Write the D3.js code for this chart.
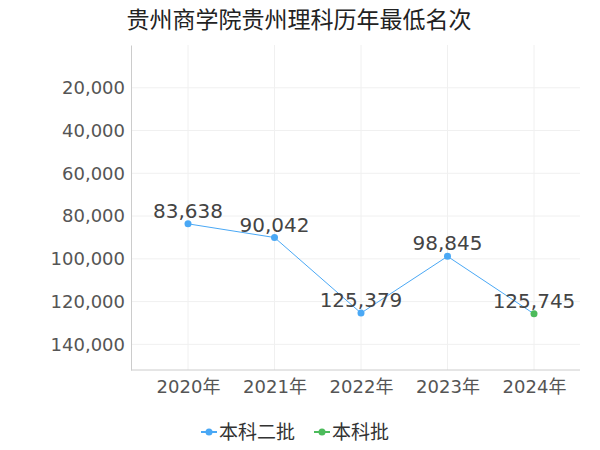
<!DOCTYPE html>
<html><head><meta charset="utf-8">
<script src="https://cdn.jsdelivr.net/npm/d3@7"></script>
<style>body{margin:0;background:#fff;font-family:"DejaVu Sans","Noto Sans CJK SC",sans-serif;}</style>
</head><body>
<script>
var years = ["2020年", "2021年", "2022年", "2023年", "2024年"];
var ranks = [83638, 90042, 125379, 98845, 125745];
var batches = ["本科二批", "本科二批", "本科二批", "本科二批", "本科批"];
var yTicks = [20000, 40000, 60000, 80000, 100000, 120000, 140000];
var legendNames = ["本科二批", "本科批"];
var batchColors = {"本科二批": "#4aa8f5", "本科批": "#4cbb5b"};

var width = 600, height = 450;
var svg = d3.select("body").append("svg").attr("width", width).attr("height", height);

var x = d3.scalePoint().domain(years).range([188, 534]);
var y = d3.scaleLinear().domain([0, 152000]).range([45, 370]);

// grid
svg.append("g").selectAll("line").data(yTicks).enter().append("line")
  .attr("x1", 131).attr("x2", 580)
  .attr("y1", function(d){ return y(d); }).attr("y2", function(d){ return y(d); })
  .style("stroke", "#f0f0f0");
svg.append("g").selectAll("line").data(years).enter().append("line")
  .attr("x1", function(d){ return x(d); }).attr("x2", function(d){ return x(d); })
  .attr("y1", 45).attr("y2", 370)
  .style("stroke", "#f0f0f0");

// axes
var yAxis = svg.append("g").attr("transform", "translate(131,0)")
  .call(d3.axisLeft(y).tickValues(yTicks).tickFormat(d3.format(",")).tickSize(0).tickPadding(6));
yAxis.select(".domain").style("stroke", "#ccc");
yAxis.selectAll("text").style("font-size", "18px").style("fill", "#555").style("font-family", "DejaVu Sans");

var xAxis = svg.append("g").attr("transform", "translate(0,370)")
  .call(d3.axisBottom(x).tickSize(0).tickPadding(10));
xAxis.select(".domain").attr("d", "M131,0H580").style("stroke", "#ccc");
xAxis.selectAll("text").style("font-size", "18px").style("fill", "#555").style("font-family", "DejaVu Sans, Noto Sans CJK SC");

// line
var line = d3.line().x(function(d, i){ return x(years[i]); }).y(function(d){ return y(d); });
svg.append("path").datum(ranks).attr("d", line)
  .style("fill", "none").style("stroke", "#4aa8f5").style("stroke-width", 1);

svg.selectAll("circle.pt").data(ranks).enter().append("circle")
  .attr("cx", function(d, i){ return x(years[i]); })
  .attr("cy", function(d){ return y(d); })
  .attr("r", 3.5)
  .style("fill", function(d, i){ return batchColors[batches[i]]; });

svg.selectAll("text.lbl").data(ranks).enter().append("text")
  .attr("x", function(d, i){ return x(years[i]); })
  .attr("y", function(d){ return y(d) - 6; })
  .attr("text-anchor", "middle")
  .style("font-size", "20px").style("fill", "#444").style("font-family", "DejaVu Sans")
  .text(function(d){ return d3.format(",")(d); });

// title
svg.append("text").attr("x", 299).attr("y", 28).attr("text-anchor", "middle")
  .style("font-size", "23px").style("fill", "#222").style("font-family", "Noto Sans CJK SC")
  .text("贵州商学院贵州理科历年最低名次");

// legend
var lx = [201, 314];
legendNames.forEach(function(n, i){
  var g = svg.append("g").attr("transform", "translate(" + lx[i] + ",432)");
  g.append("line").attr("x1", 0).attr("x2", 16).style("stroke", batchColors[n]).style("stroke-width", 2);
  g.append("circle").attr("cx", 8).attr("r", 3.5).style("fill", batchColors[n]);
  g.append("text").attr("x", 18).attr("y", 7).style("font-size", "19px").style("fill", "#333")
    .style("font-family", "Noto Sans CJK SC").text(n);
});
</script>
</body></html>
